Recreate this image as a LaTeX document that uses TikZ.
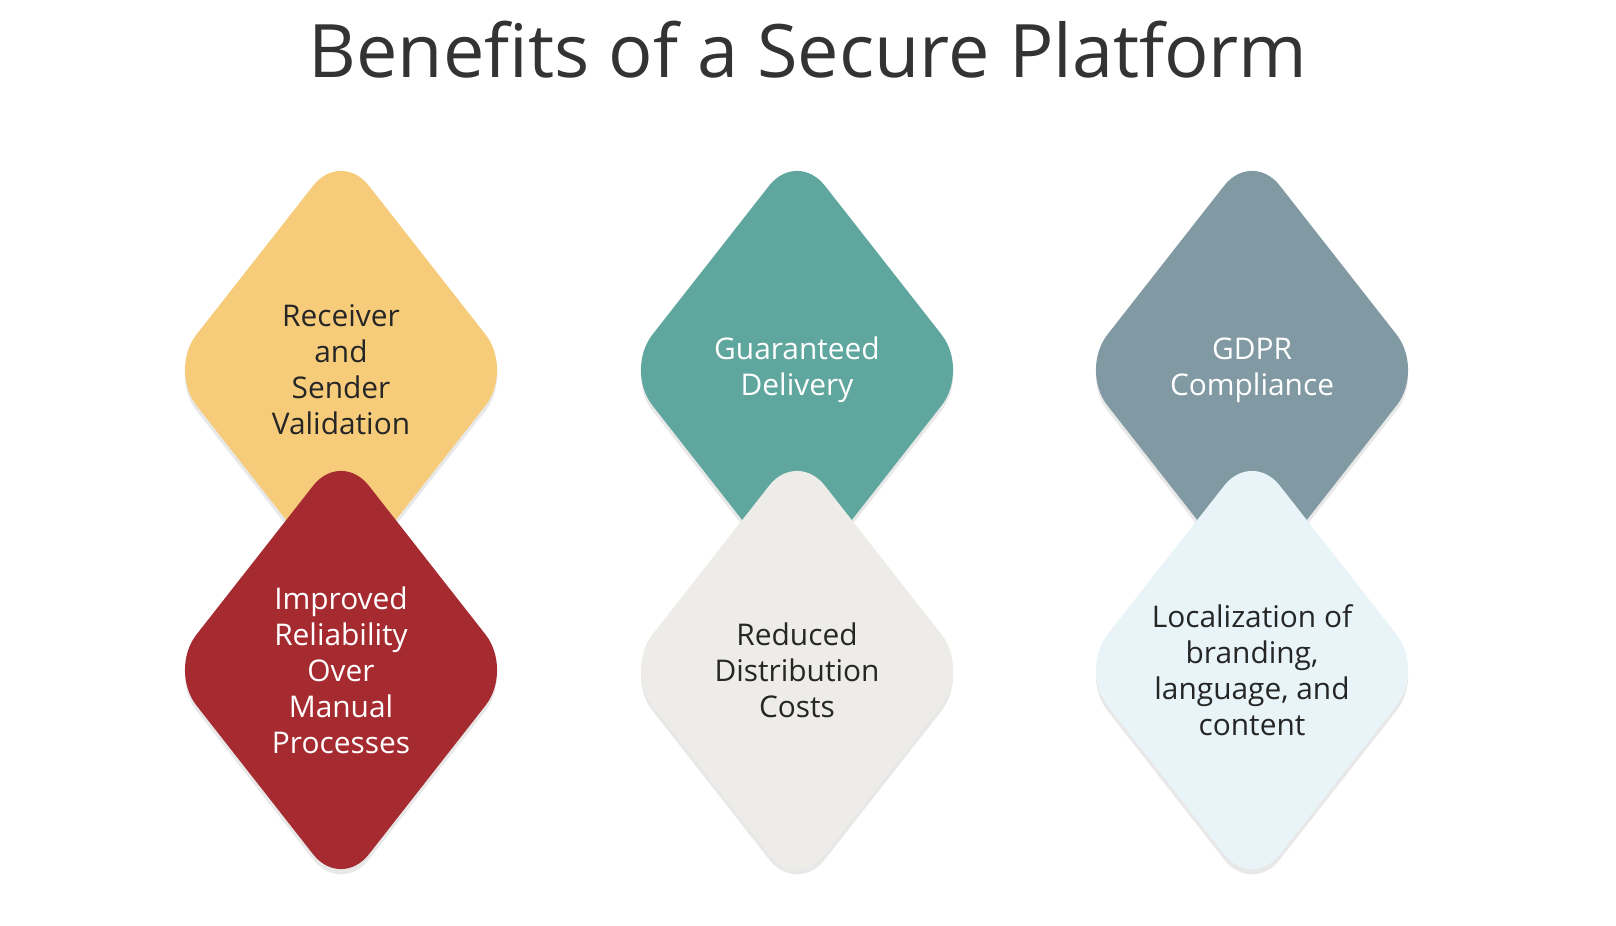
\documentclass[tikz,border=0pt]{standalone}
\usepackage{fontspec}
\setmainfont{Open Sans}
\usetikzlibrary{shapes.geometric,shadows}
\definecolor{sunny}{HTML}{F6CC7A}
\definecolor{teal}{HTML}{5FA69E}
\definecolor{slate}{HTML}{8099A2}
\definecolor{brick}{HTML}{A62B31}
\definecolor{stone}{HTML}{EDECE8}
\definecolor{frost}{HTML}{E8F4F8}
\tikzset{
  gem/.style={diamond, minimum width=6.9cm, minimum height=8.8cm, inner sep=0pt,
    rounded corners=0.9cm, align=center, font=\fontsize{17}{20.5}\selectfont,
    drop shadow={opacity=0.18, shadow xshift=0pt, shadow yshift=-3pt}},
}
\begin{document}
\begin{tikzpicture}[x=0.02cm,y=-0.02cm]
  \useasboundingbox[fill=white] (0,0) rectangle (1616,926);
  \node (title) at (808,50) {\fontsize{42}{48}\selectfont\color{black!80}Benefits of a Secure Platform};
  \node[gem, fill=sunny, text=black!85] (receiver) at (341,370) {Receiver\\and\\Sender\\Validation};
  \node[gem, fill=brick, text=white] (reliability) at (341,670) {Improved\\Reliability\\Over\\Manual\\Processes};
  \node[gem, fill=teal, text=white] (delivery) at (797,370) {Guaranteed\\Delivery};
  \node[gem, fill=stone, text=black!85] (costs) at (797,670) {Reduced\\Distribution\\Costs};
  \node[gem, fill=slate, text=white] (gdpr) at (1252,370) {GDPR\\Compliance};
  \node[gem, fill=frost, text=black!85] (local) at (1252,670) {Localization of\\branding,\\language, and\\content};
\end{tikzpicture}
\end{document}
